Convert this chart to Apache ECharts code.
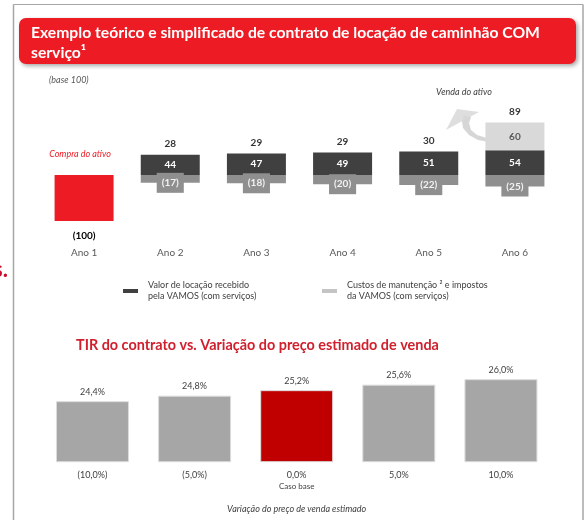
<!DOCTYPE html>
<html>
<head>
<meta charset="utf-8">
<script src="https://cdn.jsdelivr.net/npm/echarts@6/dist/echarts.min.js"></script>
<style>
  html, body { margin: 0; padding: 0; background: #fff; }
  #chart { width: 588px; height: 520px; }
</style>
</head>
<body>
<div id="chart"></div>
<script>
// top chart: contract cash flows (base 100)
const anos = ['Ano 1', 'Ano 2', 'Ano 3', 'Ano 4', 'Ano 5', 'Ano 6']
const compra = [-100, '-', '-', '-', '-', '-']
const locacao = ['-', 44, 47, 49, 51, 54]
const venda = ['-', '-', '-', '-', '-', 60]
const custos = ['-', -17, -18, -20, -22, -25]
const liquido = ['-', 28, 29, 29, 30, 89]

// bottom chart: IRR vs sale price change
const cenarios = ['(10,0%)', '(5,0%)', '0,0%', '5,0%', '10,0%']
const tir = [24.4, 24.8, 25.2, 25.6, 26.0]
const casoBase = 2

const FONT = 'Lato'
const nomeLocacao = 'Valor de locação recebido\npela VAMOS (com serviços)'
const nomeCustos = 'Custos de manutenção ² e impostos\nda VAMOS (com serviços)'

const num = (v) => (v < 0 ? '(' + Math.abs(v) + ')' : String(v))
const pct = (v) => v.toFixed(1).replace('.', ',') + '%'

// top of the positive stack, where the net value is written
const topo = liquido.map((v, i) =>
  v === '-' ? '-' : (locacao[i] === '-' ? 0 : locacao[i]) + (venda[i] === '-' ? 0 : venda[i])
)

const chart = echarts.init(document.getElementById('chart'))

const legendBase = {
  orient: 'horizontal',
  top: 275,
  selectedMode: false,
  icon: 'rect',
  itemWidth: 15,
  itemHeight: 4,
  textStyle: { fontFamily: FONT, fontSize: 9, color: '#404040', lineHeight: 11, padding: [0, 0, 0, 5] }
}

chart.setOption({
  animation: false,
  backgroundColor: '#fff',
  textStyle: { fontFamily: FONT },
  legend: [
    { ...legendBase, left: 118, data: [{ name: nomeLocacao, itemStyle: { color: '#404040' } }] },
    { ...legendBase, left: 317, data: [{ name: nomeCustos, itemStyle: { color: '#c4c4c4' } }] }
  ],
  grid: [
    { left: 41, right: 30, top: 110.6, height: 110.4 },
    { left: 41.4, right: 36, top: 365.4, height: 96.3 }
  ],
  xAxis: [
    {
      gridIndex: 0, type: 'category', data: anos,
      axisLine: { show: false }, axisTick: { show: false },
      axisLabel: { color: '#595959', fontSize: 10, margin: 27 }
    },
    {
      gridIndex: 1, type: 'category', data: cenarios,
      axisLine: { show: false }, axisTick: { show: false },
      axisLabel: {
        color: '#404040', fontSize: 9, margin: 8, lineHeight: 11,
        formatter: (v, i) => (i === casoBase ? v + '\n{s|Caso base}' : v),
        rich: { s: { fontSize: 8, color: '#404040', lineHeight: 11 } }
      },
      name: 'Variação do preço de venda estimado',
      nameLocation: 'middle', nameGap: 43,
      nameTextStyle: { fontStyle: 'italic', fontSize: 9, color: '#404040' }
    }
  ],
  yAxis: [
    { gridIndex: 0, type: 'value', min: -100, max: 140, show: false },
    { gridIndex: 1, type: 'value', min: 20, max: 27, show: false }
  ],
  series: [
    {
      name: 'Compra do ativo', type: 'bar', stack: 'a', barWidth: 59,
      data: compra, itemStyle: { color: '#ed1c24' },
      label: {
        show: true, position: 'bottom', distance: 10, formatter: (p) => num(p.value),
        color: '#000', fontWeight: 'bold', fontSize: 10
      }
    },
    {
      name: nomeLocacao, type: 'bar', stack: 'a', barWidth: 59,
      data: locacao, itemStyle: { color: '#404040' },
      label: { show: true, position: 'inside', color: '#fff', fontWeight: 'bold', fontSize: 10 }
    },
    {
      name: 'Venda do ativo', type: 'bar', stack: 'a', barWidth: 59,
      data: venda, itemStyle: { color: '#d9d9d9' },
      label: { show: true, position: 'inside', color: '#595959', fontWeight: 'bold', fontSize: 10 }
    },
    {
      name: nomeCustos, type: 'bar', stack: 'a', barWidth: 59,
      data: custos, itemStyle: { color: '#8f8f8f' },
      label: {
        show: true, position: 'bottom', distance: 0, offset: [0, -10],
        formatter: (p) => num(p.value),
        color: '#f2f2f2', fontWeight: 'bold', fontSize: 10, lineHeight: 12,
        backgroundColor: '#8f8f8f', padding: [4, 5]
      }
    },
    {
      name: 'liquido', type: 'scatter', symbolSize: 0, data: topo,
      label: {
        show: true, position: 'top', distance: 6,
        formatter: (p) => liquido[p.dataIndex],
        color: '#000', fontWeight: 'bold', fontSize: 10
      }
    },
    {
      name: 'TIR', type: 'bar', xAxisIndex: 1, yAxisIndex: 1, barWidth: 73,
      data: tir.map((v, i) => ({
        value: v,
        itemStyle: { color: i === casoBase ? '#c00000' : '#a6a6a6' }
      })),
      itemStyle: { borderColor: '#dcdcdc', borderWidth: 1 },
      label: {
        show: true, position: 'top', distance: 5, formatter: (p) => pct(p.value),
        color: '#404040', fontSize: 9
      }
    }
  ],
  graphic: [
    // slide frame
    { type: 'line', shape: { x1: 13.5, y1: 4.5, x2: 583, y2: 4.5 }, style: { stroke: '#a6a6a6', lineWidth: 1.2 } },
    { type: 'line', shape: { x1: 13.5, y1: 4.5, x2: 13.5, y2: 520 }, style: { stroke: '#a6a6a6', lineWidth: 1.5 } },
    { type: 'line', shape: { x1: 583, y1: 4.5, x2: 583, y2: 520 }, style: { stroke: '#a6a6a6', lineWidth: 1.5 } },
    // red header
    {
      type: 'rect', shape: { x: 19, y: 18, width: 557, height: 46, r: 7 },
      style: { fill: '#ed1c24', shadowBlur: 4, shadowColor: 'rgba(0,0,0,0.35)', shadowOffsetX: 2, shadowOffsetY: 2 }
    },
    {
      type: 'text', x: 31, y: 23.5,
      style: {
        text: 'Exemplo teórico e simplificado de contrato de locação de caminhão COM\nserviço¹',
        fill: '#fff', font: 'bold 15.7px Lato', lineHeight: 19.5
      }
    },
    { type: 'text', x: 49, y: 76, style: { text: '(base 100)', fill: '#595959', font: 'italic 9px Lato' } },
    { type: 'text', x: 80, y: 154, style: { text: 'Compra do ativo', fill: '#ed1c24', font: 'italic 9px Lato', align: 'center', verticalAlign: 'middle' } },
    { type: 'text', x: 464, y: 92, style: { text: 'Venda do ativo', fill: '#404040', font: 'italic 9px Lato', align: 'center', verticalAlign: 'middle' } },
    // curved arrow toward the sale label
    {
      type: 'polygon',
      shape: { points: [[489, 142], [478, 140], [469, 135], [463, 128], [462, 121], [464, 115], [471, 117], [469, 123], [471, 130], [477, 135], [490, 139]] },
      style: { fill: '#cfcfcf', opacity: 0.85 }
    },
    {
      type: 'polygon', shape: { points: [[446, 130], [457, 109], [479, 112]] },
      style: { fill: '#d8d8d8', opacity: 0.85 }
    },
    // bottom title
    {
      type: 'text', x: 76, y: 345,
      style: {
        text: 'TIR do contrato vs. Variação do preço estimado de venda',
        fill: '#d0202e', font: 'bold 14.4px Lato', verticalAlign: 'middle'
      }
    },
    // fragment of the neighbouring slide
    { type: 'text', x: 8, y: 281, style: { text: 's.', fill: '#c8102e', font: 'bold 22px Lato', align: 'right', verticalAlign: 'bottom' } }
  ]
})
</script>
</body>
</html>
